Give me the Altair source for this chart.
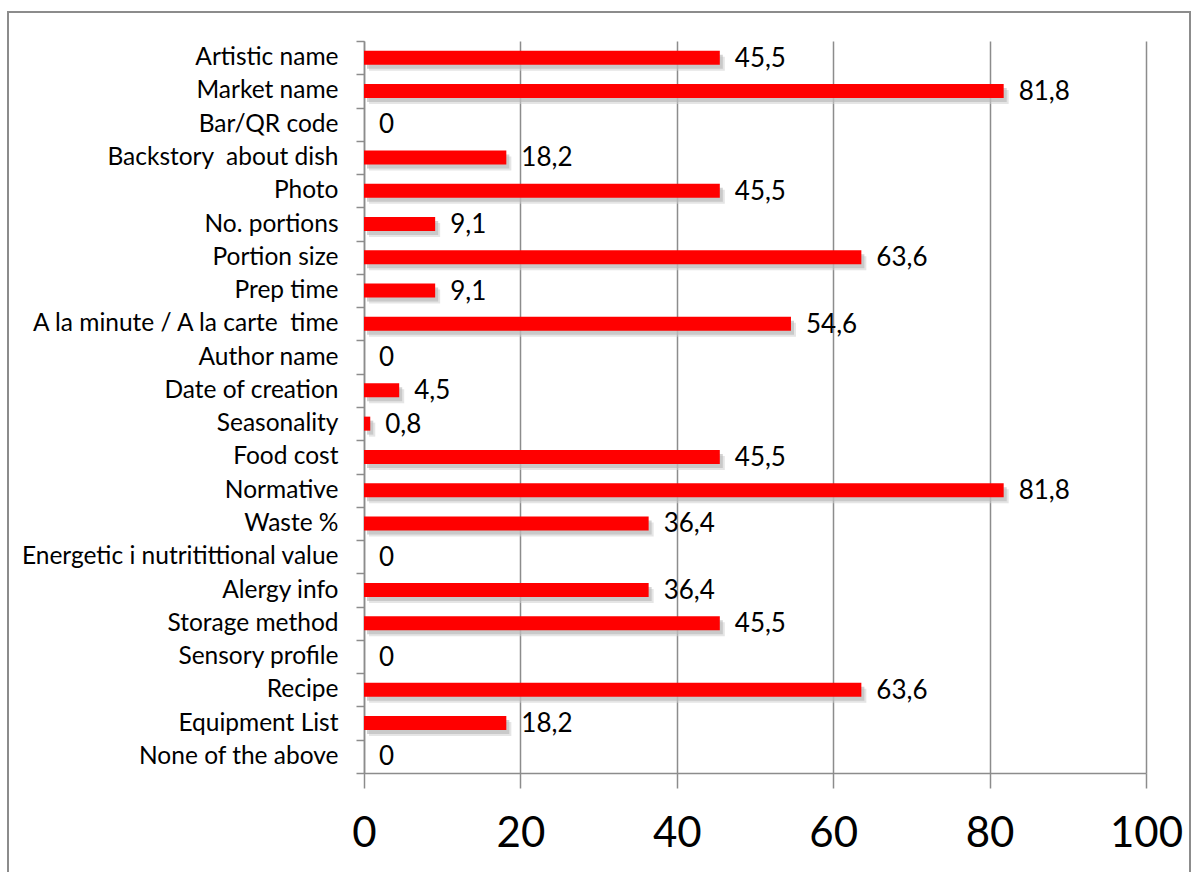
import altair as alt
import pandas as pd

categories = [
    "Artistic name", "Market name", "Bar/QR code", "Backstory\u00a0 about dish", "Photo",
    "No. portions", "Portion size", "Prep time", "A la minute / A la carte\u00a0 time",
    "Author name", "Date of creation", "Seasonality", "Food cost", "Normative",
    "Waste %", "Energetic i nutritittional value", "Alergy info", "Storage method",
    "Sensory profile", "Recipe", "Equipment List", "None of the above",
]
values = [45.5, 81.8, 0, 18.2, 45.5, 9.1, 63.6, 9.1, 54.6, 0, 4.5, 0.8,
          45.5, 81.8, 36.4, 0, 36.4, 45.5, 0, 63.6, 18.2, 0]
x_ticks = [0, 20, 40, 60, 80, 100]

df = pd.DataFrame({"item": categories, "pct": values})
df["label"] = [f"{v:g}".replace(".", ",") for v in values]

FONT = "Lato"
GRID = "#8c8c8c"

y_enc = alt.Y(
    "item:N", sort=categories, title=None,
    scale=alt.Scale(paddingInner=0, paddingOuter=0),
    axis=alt.Axis(
        labelFont=FONT, labelFontSize=24.5, labelColor="#000000", labelPadding=18,
        tickBand="extent", tickSize=8, tickColor=GRID, domainColor=GRID,
        tickWidth=1.5, domainWidth=1.5, grid=False, labelLimit=400,
    ),
)
x_enc = alt.X(
    "pct:Q", title=None,
    scale=alt.Scale(domain=[0, 100], nice=False),
    axis=alt.Axis(
        values=x_ticks, labelFont=FONT, labelFontSize=42, labelColor="#000000",
        labelPadding=25, tickSize=15, tickColor=GRID, domainColor=GRID,
        tickWidth=1.5, domainWidth=1.5, grid=True, gridColor=GRID, gridWidth=1.5,
        labelFlush=False,
    ),
)

base = alt.Chart(df)

# soft drop shadow behind each bar
shadow_far = base.mark_bar(size=14, color="#cfcfcf", opacity=0.55, xOffset=5, yOffset=6).encode(
    y=y_enc, x=x_enc)
shadow_near = base.mark_bar(size=14, color="#b5b5b5", opacity=0.6, xOffset=3, yOffset=4).encode(
    y=y_enc, x=x_enc)
bars = base.mark_bar(size=14, color="#ff0000").encode(y=y_enc, x=x_enc)
text = base.mark_text(align="left", baseline="middle", dx=15, dy=1, font=FONT, fontSize=26,
                      color="#000000").encode(y=y_enc, x=x_enc, text="label:N")

# outer frame around the whole chart
frame = alt.Chart(pd.DataFrame({"k": [0]})).mark_rect(
    fill=None, stroke="#8c8c8c", strokeWidth=2, clip=False
).encode(x=alt.value(-356), x2=alt.value(826), y=alt.value(-29), y2=alt.value(860))

chart = alt.layer(frame, shadow_far, shadow_near, bars, text).properties(
    width=782, height=732,
    autosize=alt.AutoSizeParams(type="none"),
    padding={"left": 364, "top": 41, "right": 52, "bottom": 99},
    background="#ffffff",
).configure_view(stroke=None)

chart.save("out.html", embed_options={"renderer": "svg", "actions": False})
